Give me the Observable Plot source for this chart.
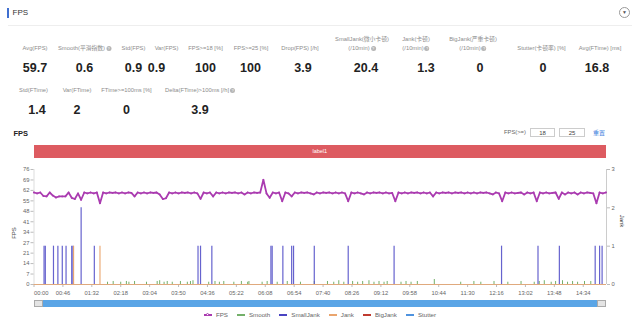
<!DOCTYPE html>
<html><head><meta charset="utf-8">
<script src="https://cdn.jsdelivr.net/npm/d3@7"></script>
<script src="https://cdn.jsdelivr.net/npm/@observablehq/plot@0.6"></script>
<style>
html,body{margin:0;padding:0;background:#fff;}
body{width:640px;height:322px;position:relative;overflow:hidden;font-family:"Liberation Sans","Noto Sans CJK SC",sans-serif;color:#333;}
.abs{position:absolute;white-space:nowrap;}
.lab{font-size:5.8px;color:#8c8c8c;transform:translateX(-50%);text-align:center;line-height:8.5px;}
.val{font-size:12.5px;font-weight:bold;color:#222;transform:translate(-50%,-50%);line-height:14px;}
.q{display:inline-block;width:5px;height:5px;border-radius:50%;background:#b5b5b5;color:#fff;font-size:4px;line-height:5px;text-align:center;vertical-align:middle;margin-left:1px;}
.legend{position:absolute;left:0;width:640px;top:311px;display:flex;justify-content:center;gap:9px;font-size:6.2px;color:#666;line-height:8px;}
.legend span.item{display:flex;align-items:center;gap:4px;}
.icon{display:inline-block;width:8px;height:2px;position:relative;}
.icon.dot::after{content:"";position:absolute;left:2px;top:-1.5px;width:3px;height:3px;border-radius:50%;background:#fff;border:0.8px solid currentColor;box-sizing:border-box;}
#plot{position:absolute;left:0;top:140px;}
</style></head><body>
<script>
// ---------- data ----------
const metricLabels = ["Avg(FPS)","Smooth(平滑指数)","Std(FPS)","Var(FPS)","FPS>=18 [%]","FPS>=25 [%]","Drop(FPS) [/h]","SmallJank(微小卡顿)|(/10min)","Jank(卡顿)|(/10min)","BigJank(严重卡顿)|(/10min)","Stutter(卡顿率) [%]","Avg(FTime) [ms]"];
const metricValues = ["59.7","0.6","0.9","0.9","100","100","3.9","20.4","1.3","0","0","16.8"];
const metricHelp = [false,true,false,false,false,false,false,true,true,true,false,false];
const metric2Labels = ["Std(FTime)","Var(FTime)","FTime>=100ms [%]","Delta(FTime)>100ms [/h]"];
const metric2Values = ["1.4","2","0","3.9"];
const metric2Help = [false,false,false,true];

const fpsTickLabels = [0,7,14,21,27,34,41,48,55,62,69,76];
const jankTickLabels = [0,1,2,3];
const timeLabels = ["00:00","00:46","01:32","02:18","03:04","03:50","04:36","05:22","06:08","06:54","07:40","08:26","09:12","09:58","10:44","11:30","12:16","13:02","13:48","14:34"];

const fpsStep = 5;
const fpsValues = [
60.8,60.2,60.8,58.5,58.2,60.8,58.8,57.5,58.2,58.2,
58.2,60.8,57.3,56.5,60.2,56,60.8,60.2,60.8,60.2,
60.8,53.7,60.8,60.2,60.8,60.5,60.8,60.2,60.8,60.2,
60.8,60.5,58.2,60.8,60.2,60.8,60.2,60.8,60.5,60.8,
59.5,56.5,57,60.8,60.2,60.8,60.2,60.8,60.5,60.8,
60.2,60.8,60.2,56.6,60.8,60.2,60.8,58.2,60.8,60.2,
60.8,60.2,60.8,60.5,60.8,60.2,60.8,59.5,60.8,60.2,
60.8,60.5,60.8,69.2,60.2,57.3,60.8,60.2,60.8,55,
60.8,60.2,58.2,60.8,60.2,60.8,60.5,60.8,60.2,59.5,
60.8,60.2,60.8,60.5,60.8,60.2,60.8,60.2,60.8,60.2,
55,60.8,60.2,60.8,60.2,59.5,60.8,60.2,60.8,60.5,
60.8,60.2,60.8,60.2,60.5,55,60.8,60.2,60.8,60.2,
60.8,60.5,60.8,60.2,60.8,60.2,60.8,58.2,60.8,60.2,
60.8,60.5,60.8,60.2,60.8,60.5,60.8,60.2,60.8,60.2,
60.8,60.2,60.8,60.5,60.8,60.2,59.5,60.8,60.2,55,
60.8,60.2,60.8,60.2,60.5,60.8,59.5,60.8,60.2,60.8,
55,60.8,60.2,60.8,60.2,60.5,60.8,56.6,60.8,59.5,
60.8,60.2,60.8,59.5,60.8,60.2,60.8,60.5,60.2,53.7,
60.8,60.2,60.8];

const smallJankT = [16,18,31,38,45,51,60,62,75,96,261,265,283,377,379,396,410,413,446,500,573,744,802,836,893,900,904];
const smallJankV = [1,1,1,1,1,1,1,1,2,1,1,1,1,1,1,1,1,1,1,1,1,1,1,1,1,1,1];
const jankT = [63,105];
const jankV = [1,1];
const smoothT = [117,126,138,147,151,160,179,196,200,207,212,220,233,244,249,253,278,288,295,302,318,330,340,342,363,371,387,403,424,446,467,477,485,493,507,515,523,533,541,549,557,562,584,592,600,610,637,679,700,711,732,754,775,796,804,812,823,830,841,849,857,865,876,886];
const smoothV = [1.5,2,1.5,2,1.5,2,1.5,2,2.5,1.5,2,1.5,2,1.5,2,2.5,1.5,2,1.5,2,1.5,2,1.5,2,1.5,2,1.5,2,1.5,2,2,1.5,2.5,1.5,2,1.5,2,2.5,1.5,2,1.5,2,1.5,2,1.5,2,3.3,1.5,2,1.5,2,1.5,2,1.5,2,2.5,1.5,2,2.5,1.5,2,1.5,2,2];

const seriesNames = ["FPS","Smooth","SmallJank","Jank","BigJank","Stutter"];
const seriesColors = ["#aa3bb0","#74b06a","#4a44c2","#eaa56e","#c03b30","#4f93df"];

// ---------- header (HTML) ----------
const b = document.body;
function add(html){ b.insertAdjacentHTML("beforeend", html); }
add(`<div class="abs" style="left:7px;top:8px;width:1.6px;height:10px;background:#3f6fd0"></div>`);
add(`<div class="abs" style="left:12.5px;top:8px;font-size:8px;line-height:10px;color:#333">FPS</div>`);
add(`<div class="abs" style="left:8px;top:25px;width:624px;height:1px;background:#eee"></div>`);
add(`<div class="abs" style="left:619px;top:7px;width:11px;height:11px;border:0.8px solid #999;border-radius:50%;box-sizing:border-box;font-size:5px;line-height:9.5px;text-align:center;color:#555">▼</div>`);

const labelX = [35,84.5,133.5,166.5,205.5,251,300,362,416,473,541.5,600];
const valueX = [35,84.5,133.5,156.5,205.5,250.5,303,366,426,480,543,597];
metricLabels.forEach((l,i)=>{
  const lines = l.split("|");
  const top = 48 - 4.25 - (lines.length-1)*8.5;
  const html = lines.map((s,j)=> s + ((j===lines.length-1 && metricHelp[i]) ? '<span class="q">?</span>' : "")).join("<br>");
  add(`<div class="abs lab" style="left:${labelX[i]}px;top:${top}px">${html}</div>`);
  add(`<div class="abs val" style="left:${valueX[i]}px;top:68px">${metricValues[i]}</div>`);
});
const label2X = [33.5,77,126.5,200];
const value2X = [37,77,126.5,200];
metric2Labels.forEach((l,i)=>{
  add(`<div class="abs lab" style="left:${label2X[i]}px;top:${90-4.25}px">${l}${metric2Help[i]?'<span class="q">?</span>':''}</div>`);
  add(`<div class="abs val" style="left:${value2X[i]}px;top:110px">${metric2Values[i]}</div>`);
});

// chart header
add(`<div class="abs" style="left:13.5px;top:129px;font-size:7.5px;font-weight:bold;line-height:10px;color:#222">FPS</div>`);
add(`<div class="abs" style="left:504px;top:129px;font-size:5.8px;line-height:7px;color:#666">FPS(>=)</div>`);
add(`<div class="abs" style="left:530px;top:127.5px;width:25px;height:9.5px;border:0.8px solid #ccc;box-sizing:border-box;font-size:6px;line-height:8px;text-align:center;color:#444">18</div>`);
add(`<div class="abs" style="left:559px;top:127.5px;width:26px;height:9.5px;border:0.8px solid #ccc;box-sizing:border-box;font-size:6px;line-height:8px;text-align:center;color:#444">25</div>`);
add(`<div class="abs" style="left:593px;top:128.5px;font-size:6px;line-height:8px;color:#3b7ddd">重置</div>`);
// label band
add(`<div class="abs" style="left:33.5px;top:145px;width:572.5px;height:13px;background:#dd5b61;color:#fff;font-size:5.5px;line-height:13px;text-align:center">label1</div>`);
// axis titles
add(`<div class="abs" style="left:14px;top:233px;font-size:6px;color:#444;transform:translate(-50%,-50%) rotate(-90deg)">FPS</div>`);
add(`<div class="abs" style="left:622px;top:221px;font-size:6px;color:#444;transform:translate(-50%,-50%) rotate(90deg)">Jank</div>`);

// ---------- plot ----------
const K = 76/3;
const xMax = 911;
const toSec = s => (+s.slice(0,2))*60 + (+s.slice(3));
const fpsData = fpsValues.map((v,i)=>({t:i*fpsStep, v}));
const smallJank = smallJankT.map((t,i)=>({t, v: smallJankV[i]*K}));
const jank = jankT.map((t,i)=>({t, v: jankV[i]*K}));
const smooth = smoothT.map((t,i)=>({t, v: smoothV[i]}));

const chart = Plot.plot({
  width: 640, height: 170,
  marginLeft: 33.5, marginRight: 34, marginTop: 29, marginBottom: 26,
  style: {fontSize: "5.8px", fontFamily: "Liberation Sans, sans-serif", color: "#666", background: "transparent", overflow: "visible"},
  x: {domain: [0, xMax]},
  y: {domain: [0, 76]},
  marks: [
    Plot.ruleX([0], {stroke: "#ddd"}),
    Plot.ruleX([xMax], {stroke: "#ccc"}),
    Plot.axisY({ticks: fpsTickLabels.map((_,i)=>i*76/11), tickFormat: d => fpsTickLabels[Math.round(d*11/76)], tickSize: 3, tickPadding: 1.5, label: null, stroke: "#bbb"}),
    Plot.axisY({anchor: "right", ticks: jankTickLabels.map(d=>d*K), tickFormat: d => Math.round(d/K), tickSize: 3, tickPadding: 2, label: null, stroke: "#bbb"}),
    Plot.axisX({ticks: timeLabels.map(toSec), tickFormat: () => "", tickSize: 3, label: null, stroke: "#bbb"}),
    Plot.text(timeLabels.slice(0,1), {x: toSec, y: 0, dy: 9, text: d => d, textAnchor: "start", fill: "#666"}),
    Plot.text(timeLabels.slice(1), {x: toSec, y: 0, dy: 9, text: d => d, fill: "#666"}),
    Plot.ruleY([0], {stroke: "#bbb"}),
    Plot.ruleX(smooth, {x: "t", y1: 0, y2: "v", stroke: seriesColors[1], strokeWidth: 1}),
    Plot.ruleX(smallJank, {x: "t", y1: 0, y2: "v", stroke: "#5552c9", strokeWidth: 1.2, strokeOpacity: 0.9}),
    Plot.ruleX(jank, {x: "t", y1: 0, y2: "v", stroke: seriesColors[3], strokeWidth: 1.1}),
    Plot.ruleY([0], {stroke: seriesColors[3], strokeWidth: 1.1, strokeOpacity: 0.8}),
    Plot.line(fpsData, {x: "t", y: "v", stroke: seriesColors[0], strokeWidth: 1.8}),
    Plot.dot(fpsData, {x: "t", y: "v", r: 0.9, fill: seriesColors[0]})
  ]
});
chart.id = "plot";
b.appendChild(chart);

// slider
add(`<div class="abs" style="left:34px;top:300px;width:572px;height:6.5px;background:#5aa5e6"></div>`);
add(`<div class="abs" style="left:33.5px;top:299.5px;width:9px;height:7.5px;background:#e4e4e4;border:0.6px solid #aaa;box-sizing:border-box"></div>`);
add(`<div class="abs" style="left:597px;top:299.5px;width:9px;height:7.5px;background:#e4e4e4;border:0.6px solid #aaa;box-sizing:border-box"></div>`);

// legend
const lg = seriesNames.map((n,i)=>`<span class="item" style="color:${seriesColors[i]}"><span class="icon ${i===0?'dot':''}" style="background:${seriesColors[i]}"></span><span style="color:#666">${n}</span></span>`).join("");
add(`<div class="legend">${lg}</div>`);
</script>
</body></html>
